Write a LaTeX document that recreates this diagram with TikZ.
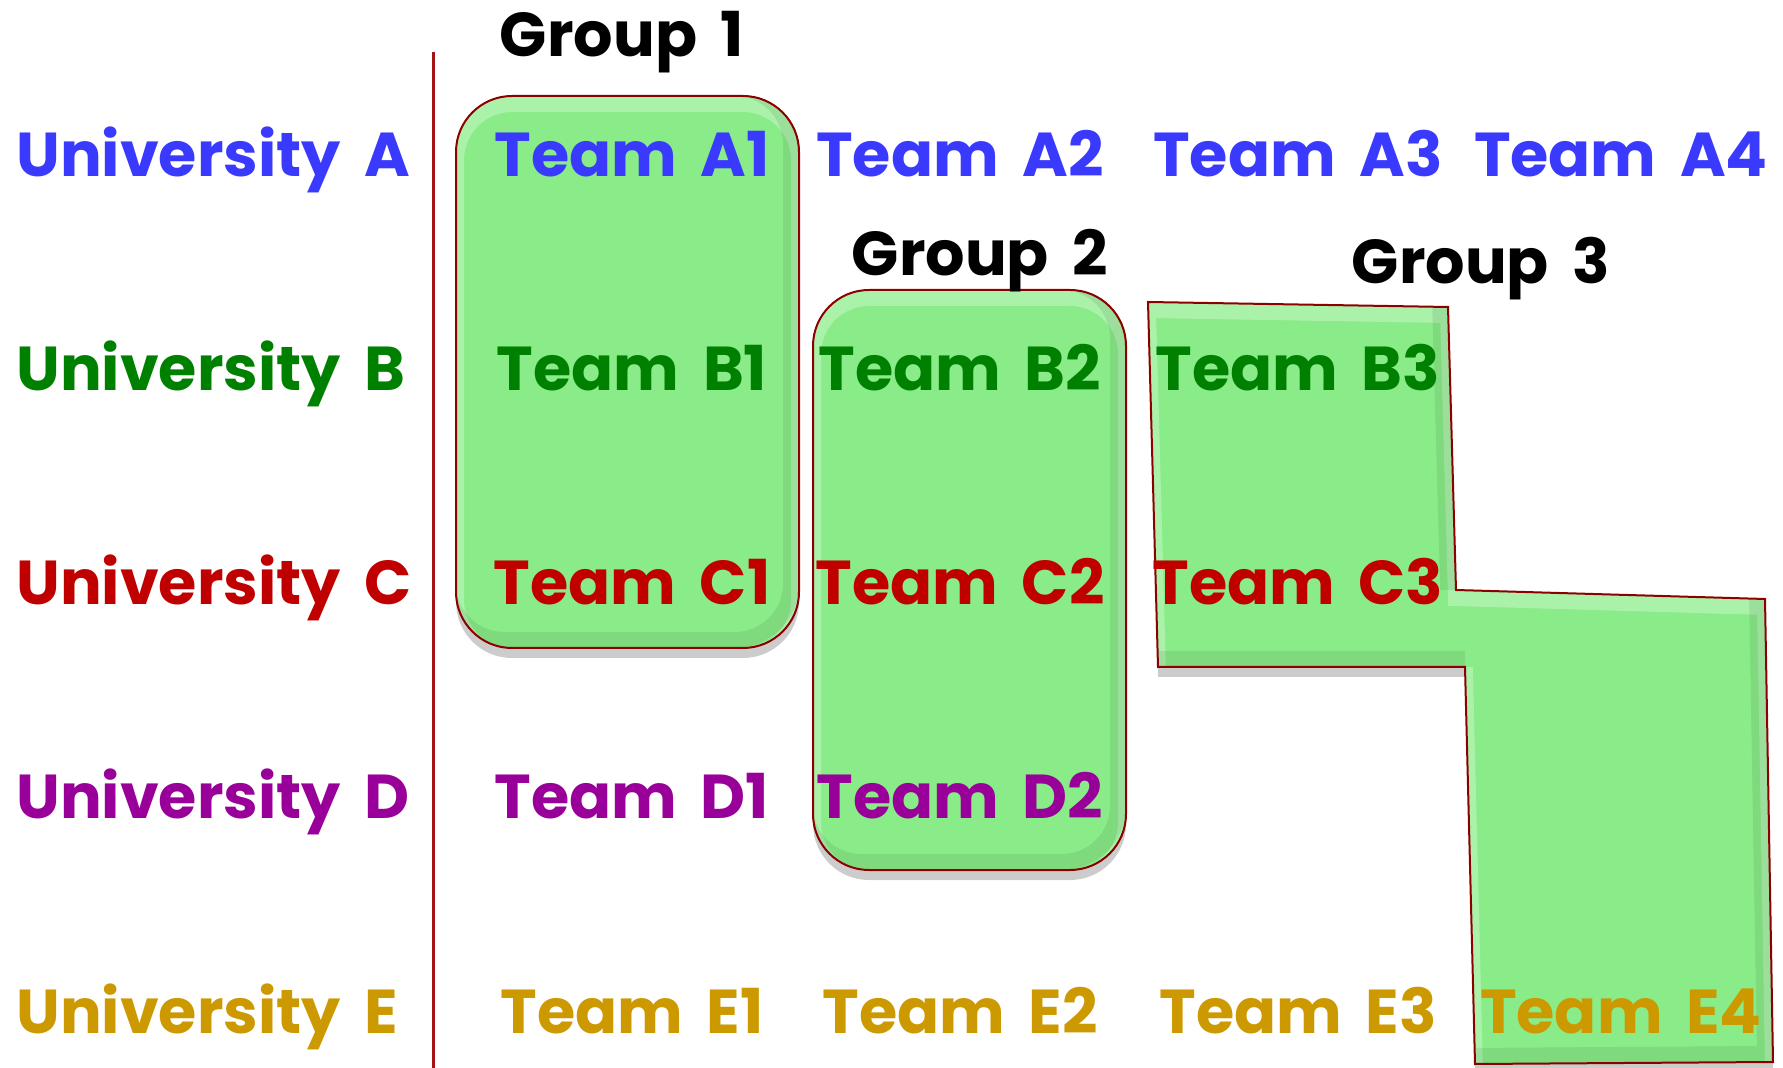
\documentclass[tikz,border=0pt]{standalone}
\usepackage{fontspec}
\setmainfont{Poppins}[WordSpace=1.8]
\usetikzlibrary{shadows}

\definecolor{colA}{RGB}{58,58,255}
\definecolor{colB}{RGB}{0,128,0}
\definecolor{colC}{RGB}{192,0,0}
\definecolor{colD}{RGB}{153,0,153}
\definecolor{colE}{RGB}{204,153,0}
\definecolor{grpgreen}{RGB}{138,236,136}
\definecolor{grpedge}{RGB}{140,0,0}
\definecolor{divline}{RGB}{165,20,20}

\tikzset{
  uni/.style={anchor=base west,inner sep=0pt,font=\fontsize{31}{36}\selectfont\bfseries},
  team/.style={anchor=base,inner sep=0pt,font=\fontsize{31}{36}\selectfont\bfseries},
  grplabel/.style={anchor=base,inner sep=0pt,font=\fontsize{31}{36}\selectfont\bfseries},
  grpbox/.style={fill=grpgreen,drop shadow={shadow xshift=0pt,shadow yshift=-5pt,fill=black,opacity=.2}},
  grpline/.style={draw=grpedge,line width=1pt}
}

% green group area with a bevelled rim
\newcommand\groupshape[1]{%
  \fill[grpbox] #1;
  \begin{scope}
    \clip #1;
    \draw[line width=8pt,white,opacity=.28,shift={(0,8)}] #1;
    \draw[line width=8pt,black,opacity=.08,shift={(-8,-8)}] #1;
  \end{scope}
  \draw[grpline] #1;
}

\begin{document}
\begin{tikzpicture}[x=0.5pt,y=-0.5pt]
\useasboundingbox (0,0) rectangle (1783,1068);

% groups
\groupshape{[rounded corners=28pt] (456,96) rectangle (799,648)}
\groupshape{[rounded corners=28pt] (813,290) rectangle (1126,870)}
\groupshape{(1148,302) -- (1448,307) -- (1456,590) -- (1765,599) -- (1773,1062) -- (1475,1064) -- (1465,667) -- (1158,667) -- cycle}

\node[grplabel] (g1) at (622,57) {Group 1};
\node[grplabel] (g2) at (980,276) {Group 2};
\node[grplabel] (g3) at (1481,284) {Group 3};

% divider
\coordinate (top) at (433,52);
\coordinate (bot) at (433,1068);
\draw[divline,line width=1.5pt] (top) -- (bot);

% universities
\foreach \r/\y in {A/177,B/391,C/605,D/819,E/1033}
  \node[uni,text=col\r] (u\r) at (16,\y) {University \r};

% teams
\foreach \r/\y/\ks in {A/177/{1,2,3,4},B/391/{1,2,3},C/605/{1,2,3},D/819/{1,2},E/1033/{1,2,3,4}}
  \foreach \k in \ks {
    \pgfmathsetmacro\xx{{632,960,1298,1621}[\k-1]}
    \node[team,text=col\r] (t\r\k) at (\xx,\y) {Team \r\k};
  }
\end{tikzpicture}
\end{document}
